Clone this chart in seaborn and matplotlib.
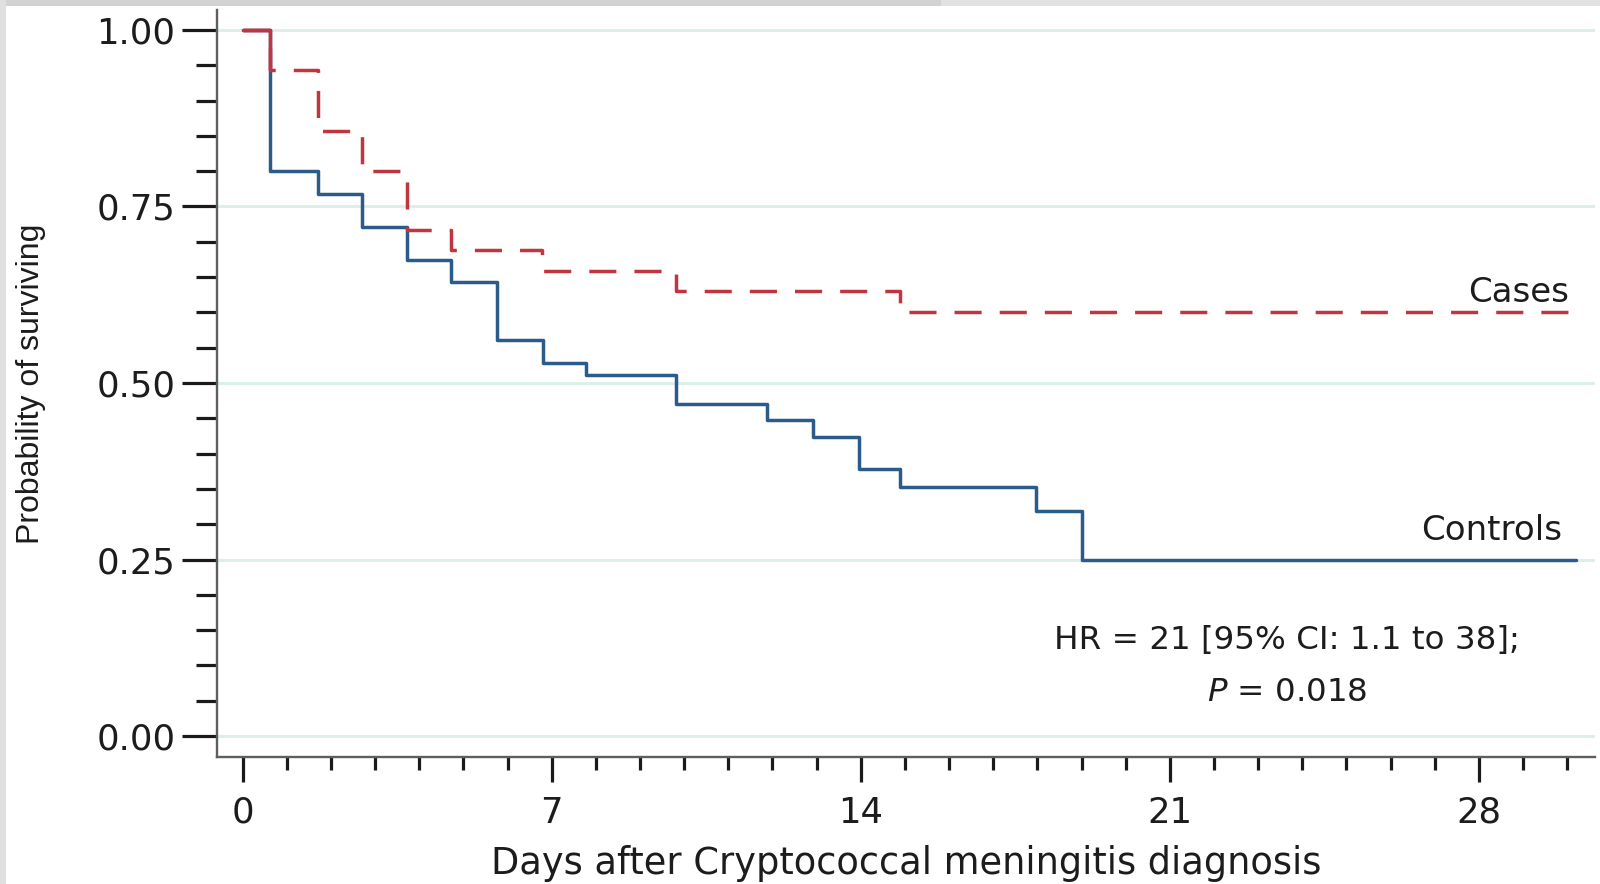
import matplotlib
matplotlib.use("Agg")
import matplotlib.pyplot as plt
from matplotlib.patches import Rectangle
from matplotlib.ticker import MultipleLocator, FixedLocator
import numpy as np
import pandas as pd
import seaborn as sns

# Kaplan-Meier step curves: event times (days) and survival probability after each step
controls_days = [0.0, 0.63, 1.70, 2.70, 3.73, 4.73, 5.76, 6.80, 7.78, 9.82,
                 11.88, 12.92, 13.95, 14.90, 17.96, 19.00, 30.20]
controls_surv = [1.000, 0.800, 0.767, 0.721, 0.674, 0.643, 0.561, 0.528, 0.511, 0.470,
                 0.448, 0.424, 0.378, 0.353, 0.318, 0.249, 0.249]

cases_days = [0.0, 0.63, 1.70, 2.70, 3.73, 4.73, 6.78, 9.82, 14.90, 30.20]
cases_surv = [1.000, 0.943, 0.857, 0.800, 0.716, 0.688, 0.659, 0.630, 0.600, 0.600]

group_names = ["Controls", "Cases"]
x_major_ticks = [0, 7, 14, 21, 28]
y_major_ticks = [0.00, 0.25, 0.50, 0.75, 1.00]
y_tick_labels = ["0.00", "0.25", "0.50", "0.75", "1.00"]

hr_text = "HR = 21 [95% CI: 1.1 to 38];"
p_text = r"$P$ = 0.018"

controls_df = pd.DataFrame({"day": controls_days, "surv": controls_surv, "group": group_names[0]})
cases_df = pd.DataFrame({"day": cases_days, "surv": cases_surv, "group": group_names[1]})
df = pd.concat([controls_df, cases_df], ignore_index=True)

sns.set_theme(style="white")
plt.rcParams["font.family"] = ["DejaVu Sans"]

TEXT = "#1c1c1c"
LW = 2.5
palette = {"Controls": "#2b5b88", "Cases": "#c0353f"}

fig = plt.figure(figsize=(16, 8.84), dpi=100)
fig.patch.set_facecolor("white")
ax = fig.add_axes([0.1356, 0.144, 0.8613, 0.8447])

# light horizontal reference lines
for yv in y_major_ticks:
    ax.axhline(yv, color="#dcefea", lw=2.2, zorder=0)

sns.lineplot(
    data=df, x="day", y="surv", hue="group", style="group",
    hue_order=group_names, style_order=group_names,
    palette=palette,
    dashes={"Controls": "", "Cases": (7.8, 5.2)},
    drawstyle="steps-post", estimator=None, sort=False,
    linewidth=LW, legend=False, ax=ax,
)

# the opening step is shared by both groups: draw it solid in the Cases colour
sns.lineplot(
    data=cases_df.iloc[:2], x="day", y="surv", color=palette["Cases"],
    drawstyle="steps-post", estimator=None, sort=False,
    linewidth=LW, legend=False, ax=ax,
)

ax.set_xlim(-0.58, 30.63)
ax.set_ylim(-0.0293, 1.0283)

ax.xaxis.set_major_locator(FixedLocator(x_major_ticks))
ax.xaxis.set_minor_locator(MultipleLocator(1))
ax.yaxis.set_major_locator(FixedLocator(y_major_ticks))
ax.yaxis.set_minor_locator(MultipleLocator(0.05))
ax.set_yticklabels(y_tick_labels)

ax.tick_params(axis="y", which="major", direction="out", length=25, width=2.3,
               color="#1a1a1a", labelsize=25.5, labelcolor=TEXT, pad=5, left=True)
ax.tick_params(axis="y", which="minor", direction="out", length=15, width=2.3,
               color="#1a1a1a", left=True)
ax.tick_params(axis="x", which="major", direction="out", length=18, width=2.3,
               color="#1a1a1a", labelsize=25.5, labelcolor=TEXT, pad=10, bottom=True)
ax.tick_params(axis="x", which="minor", direction="out", length=9.5, width=2.3,
               color="#1a1a1a", bottom=True)

for side in ["top", "right"]:
    ax.spines[side].set_visible(False)
for side in ["left", "bottom"]:
    ax.spines[side].set_color("#5e5e5e")
    ax.spines[side].set_linewidth(1.7)

ax.set_xlabel("Days after Cryptococcal meningitis diagnosis", fontsize=26.5,
              color=TEXT, labelpad=11)
ax.set_ylabel("Probability of surviving", fontsize=23, color=TEXT,
              family=["Liberation Sans", "DejaVu Sans"])
ax.yaxis.set_label_coords(-0.124, 0.5)

ax.text(30.05, 0.615, "Cases", ha="right", va="baseline", fontsize=24.5, color=TEXT)
ax.text(29.88, 0.278, "Controls", ha="right", va="baseline", fontsize=24.5, color=TEXT)
ax.text(23.65, 0.135, hr_text, ha="center", va="center", fontsize=23.4, color=TEXT)
ax.text(23.65, 0.062, p_text, ha="center", va="center", fontsize=23.4, color=TEXT)

# thin grey frame along the top and left edges
fig.patches.append(Rectangle((0, 1 - 6 / 884), 941 / 1600, 6 / 884, transform=fig.transFigure,
                             facecolor="#d2d2d2", edgecolor="none", zorder=-1))
fig.patches.append(Rectangle((941 / 1600, 1 - 6 / 884), 1 - 941 / 1600, 6 / 884,
                             transform=fig.transFigure, facecolor="#e2e2e2",
                             edgecolor="none", zorder=-1))
fig.patches.append(Rectangle((0, 0), 6 / 1600, 1, transform=fig.transFigure,
                             facecolor="#e0e0e0", edgecolor="none", zorder=-1))

fig.savefig("out.png", dpi=100, facecolor=fig.get_facecolor())
